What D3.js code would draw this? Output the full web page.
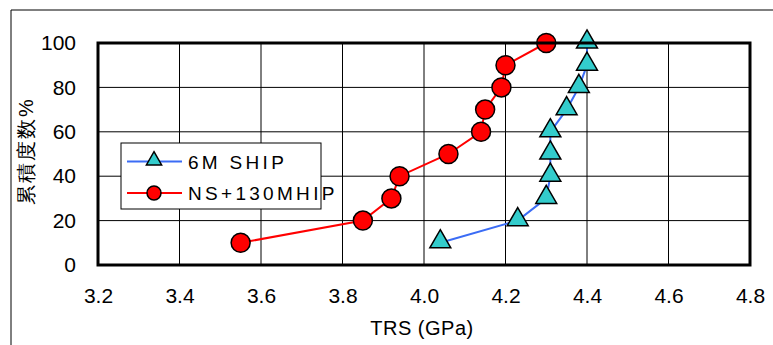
<!DOCTYPE html>
<html>
<head>
<meta charset="utf-8">
<script src="https://cdn.jsdelivr.net/npm/d3@7"></script>
<style>
  body { margin: 0; background: #fff; }
  text { font-family: "Liberation Sans", Arial, sans-serif; }
</style>
</head>
<body>
<div id="chart"></div>
<script>
// data
const xTicks = [3.2, 3.4, 3.6, 3.8, 4.0, 4.2, 4.4, 4.6, 4.8];
const yTicks = [0, 20, 40, 60, 80, 100];

const shipName = '6M SHIP';
const shipTrs = [4.04, 4.23, 4.30, 4.31, 4.31, 4.31, 4.35, 4.38, 4.40, 4.40];
const shipCum = [10, 20, 30, 40, 50, 60, 70, 80, 90, 100];

const nsName = 'NS+130MHIP';
const nsTrs = [3.55, 3.85, 3.92, 3.94, 4.06, 4.14, 4.15, 4.19, 4.20, 4.30];
const nsCum = [10, 20, 30, 40, 50, 60, 70, 80, 90, 100];

const dims = { width: 773, height: 345 };
const plot = { left: 98, right: 750, top: 43, bottom: 265 };

const svg = d3.select('#chart').append('svg')
  .attr('width', dims.width)
  .attr('height', dims.height);

// outer frame (only top and left edges are visible in the crop)
svg.append('path')
  .attr('d', `M11,${dims.height} L11,10 L${dims.width},10`)
  .attr('fill', 'none')
  .attr('stroke', '#000')
  .attr('stroke-width', 1);

const xScale = d3.scaleLinear().domain([3.2, 4.8]).range([plot.left, plot.right]);
const yScale = d3.scaleLinear().domain([0, 100]).range([plot.bottom, plot.top]);

const g = svg.append('g');

// grid
g.selectAll('line.vgrid')
  .data(xTicks)
  .join('line')
    .attr('class', 'vgrid')
    .attr('x1', d => xScale(d)).attr('x2', d => xScale(d))
    .attr('y1', plot.top).attr('y2', plot.bottom)
    .attr('stroke', '#000').attr('stroke-width', 1);

g.selectAll('line.hgrid')
  .data(yTicks)
  .join('line')
    .attr('class', 'hgrid')
    .attr('x1', plot.left).attr('x2', plot.right)
    .attr('y1', d => yScale(d)).attr('y2', d => yScale(d))
    .attr('stroke', '#000').attr('stroke-width', 1);

// axes, labels only
const xAxis = d3.axisBottom(xScale).tickValues(xTicks).tickFormat(d3.format('.1f')).tickSize(0).tickPadding(23);
const yAxis = d3.axisLeft(yScale).tickValues(yTicks).tickSize(0).tickPadding(22);

const xg = svg.append('g').attr('transform', `translate(0,${plot.bottom})`).call(xAxis);
const yg = svg.append('g').attr('transform', `translate(${plot.left},0)`).call(yAxis);
[xg, yg].forEach(a => {
  a.select('.domain').remove();
  a.selectAll('text')
    .attr('font-family', '"Liberation Sans Narrow", "Liberation Sans", sans-serif')
    .attr('font-size', 21)
    .attr('fill', '#000');
});

// plot border
svg.append('rect')
  .attr('x', plot.left).attr('y', plot.top)
  .attr('width', plot.right - plot.left)
  .attr('height', plot.bottom - plot.top)
  .attr('fill', 'none')
  .attr('stroke', '#000')
  .attr('stroke-width', 3);

// axis titles
svg.append('text')
  .attr('x', 422)
  .attr('y', 335)
  .attr('text-anchor', 'middle')
  .attr('font-size', 20)
  .attr('letter-spacing', 0.5)
  .text('TRS (GPa)');

svg.append('text')
  .attr('transform', `translate(26, 151) rotate(-90)`)
  .attr('text-anchor', 'middle')
  .attr('dominant-baseline', 'central')
  .attr('font-family', '"Noto Sans CJK JP", sans-serif')
  .attr('font-size', 20)
  .attr('letter-spacing', 2)
  .text('累積度数%');

// series
const tri = d3.symbol().type(d3.symbolTriangle);
const line = d3.line().x(d => xScale(d[0])).y(d => yScale(d[1]));

const shipPts = d3.zip(shipTrs, shipCum);
const nsPts = d3.zip(nsTrs, nsCum);

g.append('path')
  .datum(shipPts)
  .attr('d', line)
  .attr('fill', 'none')
  .attr('stroke', '#3b6cf5')
  .attr('stroke-width', 2);

g.append('path')
  .datum(nsPts)
  .attr('d', line)
  .attr('fill', 'none')
  .attr('stroke', '#ff0000')
  .attr('stroke-width', 2);

g.selectAll('path.ship')
  .data(shipPts)
  .join('path')
    .attr('class', 'ship')
    .attr('d', tri.size(190))
    .attr('transform', d => `translate(${xScale(d[0])},${yScale(d[1]) - 1})`)
    .attr('fill', '#33cccc')
    .attr('stroke', '#000')
    .attr('stroke-width', 1.5);

g.selectAll('circle.ns')
  .data(nsPts)
  .join('circle')
    .attr('class', 'ns')
    .attr('cx', d => xScale(d[0]))
    .attr('cy', d => yScale(d[1]))
    .attr('r', 9.5)
    .attr('fill', '#ff0000')
    .attr('stroke', '#000')
    .attr('stroke-width', 1.5);

// legend
const legend = svg.append('g');
legend.append('rect')
  .attr('x', 121).attr('y', 143)
  .attr('width', 200).attr('height', 66)
  .attr('fill', '#fff')
  .attr('stroke', '#000')
  .attr('stroke-width', 1);

const items = [
  { name: shipName, color: '#3b6cf5', mark: 'tri', y: 161.5 },
  { name: nsName, color: '#ff0000', mark: 'circle', y: 193 }
];

items.forEach(it => {
  legend.append('line')
    .attr('x1', 127).attr('x2', 182)
    .attr('y1', it.y).attr('y2', it.y)
    .attr('stroke', it.color).attr('stroke-width', 2);
  if (it.mark === 'tri') {
    legend.append('path')
      .attr('d', tri.size(100))
      .attr('transform', `translate(154,${it.y - 1})`)
      .attr('fill', '#33cccc').attr('stroke', '#000').attr('stroke-width', 1.5);
  } else {
    legend.append('circle')
      .attr('cx', 154).attr('cy', it.y).attr('r', 7)
      .attr('fill', '#ff0000').attr('stroke', '#000').attr('stroke-width', 1.5);
  }
  legend.append('text')
    .attr('x', 188).attr('y', it.y + 7)
    .attr('font-family', '"Liberation Sans Narrow", "Liberation Sans", sans-serif')
    .attr('font-size', 19)
    .attr('letter-spacing', 3.3)
    .text(it.name);
});
</script>
</body>
</html>
